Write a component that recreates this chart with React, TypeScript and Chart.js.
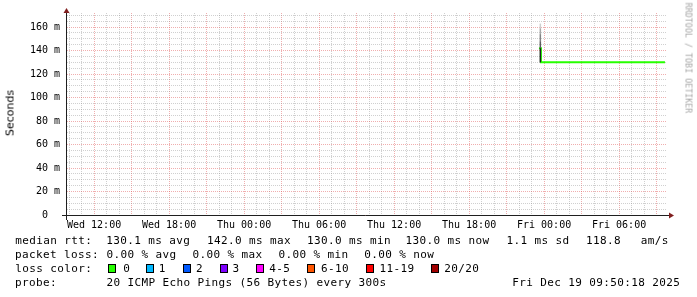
import React, { useEffect, useRef } from 'react';
import { Chart, registerables } from 'chart.js';

Chart.register(...registerables);

// x values are hours since Wed 00:00
const X_START = 9 + 50 / 60; // Wed 09:50
const X_END = 57 + 50 / 60; // Fri 09:50
const Y_MAX = 172;

const X_LABEL_HOURS = [12, 18, 24, 30, 36, 42, 48, 54];
const X_LABELS = ['Wed 12:00', 'Wed 18:00', 'Thu 00:00', 'Thu 06:00', 'Thu 12:00', 'Thu 18:00', 'Fri 00:00', 'Fri 06:00'];
const Y_LABEL_VALUES = [0, 20, 40, 60, 80, 100, 120, 140, 160];
const Y_LABELS = ['0  ', '20 m', '40 m', '60 m', '80 m', '100 m', '120 m', '140 m', '160 m'];

const medianTimes = [47.59, 47.75, 57.67];
const medianValues = [142, 130, 130];

const smokeTime = 47.7;
const smokeLow = [130, 142, 148, 154, 159];
const smokeHigh = [142, 148, 154, 159, 163];
const smokeShades = ['#1e1e1e', '#5c5c5c', '#828282', '#a8a8a8', '#cfcfcf'];

const rttTitle = 'median rtt:';
const rttStats = ['130.1 ms avg', '142.0 ms max', '130.0 ms min', '130.0 ms now', '1.1 ms sd', '118.8', 'am/s'];
const lossTitle = 'packet loss:';
const lossStats = ['0.00 % avg', '0.00 % max', '0.00 % min', '0.00 % now'];
const colorTitle = 'loss color:';
const lossLabels = ['0', '1', '2', '3', '4-5', '6-10', '11-19', '20/20'];
const lossColors = ['#26ff00', '#00b8ff', '#0059ff', '#7e00ff', '#ff00ff', '#ff5500', '#ff0000', '#a10000'];
const probeTitle = 'probe:';
const probeText = '20 ICMP Echo Pings (56 Bytes) every 300s';
const dateText = 'Fri Dec 19 09:50:18 2025';
const yTitle = 'Seconds';
const watermark = 'RRDTOOL / TOBI OETIKER';

const MAJOR = 'rgba(222,79,79,0.46)';
const MINOR = 'rgba(143,143,143,0.42)';

const axesPlugin = {
  id: 'rrdAxes',
  afterDraw(chart: any) {
    const { ctx, chartArea: a } = chart;
    ctx.save();
    ctx.strokeStyle = '#1f1f1f';
    ctx.lineWidth = 1;
    ctx.beginPath();
    ctx.moveTo(a.left - 5, a.bottom + 0.5);
    ctx.lineTo(a.right + 2, a.bottom + 0.5);
    ctx.moveTo(a.left - 0.5, a.bottom + 5);
    ctx.lineTo(a.left - 0.5, a.top);
    ctx.stroke();
    ctx.fillStyle = '#801f1f';
    ctx.beginPath();
    ctx.moveTo(a.right + 2, a.bottom + 0.5 - 3);
    ctx.lineTo(a.right + 7, a.bottom + 0.5);
    ctx.lineTo(a.right + 2, a.bottom + 0.5 + 3);
    ctx.closePath();
    ctx.fill();
    ctx.beginPath();
    ctx.moveTo(a.left - 0.5 - 3, a.top);
    ctx.lineTo(a.left - 0.5, a.top - 5);
    ctx.lineTo(a.left - 0.5 + 3, a.top);
    ctx.closePath();
    ctx.fill();
    ctx.restore();
  },
};

const mono = '"DejaVu Sans Mono", monospace';

function Txt({ x, y, children, style }: any) {
  return (
    <span
      style={{
        position: 'absolute',
        left: x,
        top: y,
        whiteSpace: 'pre',
        fontFamily: mono,
        fontSize: '11px',
        lineHeight: '14px',
        letterSpacing: '0.38px',
        color: '#000',
        ...style,
      }}
    >
      {children}
    </span>
  );
}

export default function App() {
  const ref = useRef<HTMLCanvasElement>(null);

  useEffect(() => {
    if (!ref.current) return;
    const hourTicks: number[] = [];
    for (let h = Math.ceil(X_START); h <= X_END; h++) hourTicks.push(h);
    const yTicks: number[] = [];
    for (let v = 0; v <= Y_MAX; v += 5) yTicks.push(v);

    const datasets: any[] = [
      {
        type: 'line',
        data: medianTimes.map((t, i) => ({ x: t, y: medianValues[i] })),
        borderColor: '#26ff00',
        borderWidth: 2,
        pointRadius: 0,
        stepped: true,
        order: 2,
      },
      ...smokeLow.map((lo, i) => ({
        type: 'line',
        data: [
          { x: smokeTime, y: lo },
          { x: smokeTime, y: smokeHigh[i] },
        ],
        borderColor: smokeShades[i],
        borderWidth: 1.5,
        pointRadius: 0,
        order: 1,
      })),
    ];

    const chart = new Chart(ref.current, {
      type: 'line',
      data: { datasets },
      options: {
        animation: false,
        responsive: false,
        maintainAspectRatio: false,
        devicePixelRatio: 1,
        layout: { padding: { top: 13, right: 30, left: 0, bottom: 0 } },
        plugins: { legend: { display: false }, tooltip: { enabled: false } },
        scales: {
          x: {
            type: 'linear',
            min: X_START,
            max: X_END,
            afterBuildTicks: (s: any) => {
              s.ticks = hourTicks.map((v) => ({ value: v }));
            },
            afterFit: (s: any) => {
              s.height = 82;
            },
            border: { display: false, dash: [1, 1] },
            grid: {
              drawTicks: false,
              lineWidth: 1,
              color: (c: any) => (c.tick && c.tick.value % 3 === 0 ? MAJOR : MINOR),
            },
            ticks: {
              autoSkip: false,
              maxRotation: 0,
              minRotation: 0,
              padding: 4,
              color: '#000',
              font: { family: mono, size: 10 },
              callback: (v: any) => {
                const i = X_LABEL_HOURS.indexOf(Number(v));
                return i >= 0 ? X_LABELS[i] : '';
              },
            },
          },
          y: {
            type: 'linear',
            min: 0,
            max: Y_MAX,
            afterBuildTicks: (s: any) => {
              s.ticks = yTicks.map((v) => ({ value: v }));
            },
            afterFit: (s: any) => {
              s.width = 67;
            },
            border: { display: false, dash: [1, 1] },
            grid: {
              drawTicks: false,
              lineWidth: 1,
              color: (c: any) => (c.tick && c.tick.value % 20 === 0 ? MAJOR : MINOR),
            },
            ticks: {
              autoSkip: false,
              padding: 7,
              color: '#000',
              font: { family: mono, size: 10 },
              callback: (v: any) => {
                const i = Y_LABEL_VALUES.indexOf(Number(v));
                return i >= 0 ? Y_LABELS[i] : '';
              },
            },
          },
        },
      },
      plugins: [axesPlugin],
    } as any);
    return () => chart.destroy();
  }, []);

  const rttX = [106.2, 207.1, 307.1, 405.5, 506.4, 586.1, 640.8];
  const lossX = [106.5, 192.5, 278.5, 364.2];
  const boxX = [108.3, 146, 182.7, 220, 256, 306.7, 366, 430.7];
  const labelX = [123.2, 158.8, 195.9, 232.4, 269.2, 320.9, 379.5, 444.2];

  return (
    <div style={{ position: 'absolute', left: 0, top: 0, width: 697, height: 297, background: '#fff', overflow: 'hidden' }}>
      <canvas ref={ref} width={697} height={297} style={{ position: 'absolute', left: 0, top: 0 }} />
      <div
        style={{
          position: 'absolute',
          left: 10,
          top: 113,
          transform: 'translate(-50%, -50%) rotate(-90deg)',
          fontFamily: '"DejaVu Sans", sans-serif',
          fontSize: '11px',
          lineHeight: '13px',
          whiteSpace: 'pre',
          color: '#000',
        }}
      >
        {yTitle}
      </div>
      <div
        style={{
          position: 'absolute',
          left: 688.3,
          top: 58,
          transform: 'translate(-50%, -50%) rotate(90deg)',
          fontFamily: mono,
          fontSize: '8.2px',
          lineHeight: '9px',
          letterSpacing: '0.1px',
          whiteSpace: 'pre',
          color: '#a4a4a4',
        }}
      >
        {watermark}
      </div>
      <Txt x={15.3} y={234}>{rttTitle}</Txt>
      {rttStats.map((s, i) => (
        <Txt key={'r' + i} x={rttX[i]} y={234}>{s}</Txt>
      ))}
      <Txt x={15.1} y={248}>{lossTitle}</Txt>
      {lossStats.map((s, i) => (
        <Txt key={'l' + i} x={lossX[i]} y={248}>{s}</Txt>
      ))}
      <Txt x={15.2} y={262}>{colorTitle}</Txt>
      {lossLabels.map((s, i) => (
        <React.Fragment key={'c' + i}>
          <div
            style={{
              position: 'absolute',
              left: boxX[i],
              top: 264,
              width: 8,
              height: 9,
              boxSizing: 'border-box',
              border: '1px solid #000',
              background: lossColors[i],
            }}
          />
          <Txt x={labelX[i]} y={262}>{s}</Txt>
        </React.Fragment>
      ))}
      <Txt x={15.1} y={276}>{probeTitle}</Txt>
      <Txt x={106.5} y={276}>{probeText}</Txt>
      <Txt x={512.2} y={276}>{dateText}</Txt>
    </div>
  );
}
